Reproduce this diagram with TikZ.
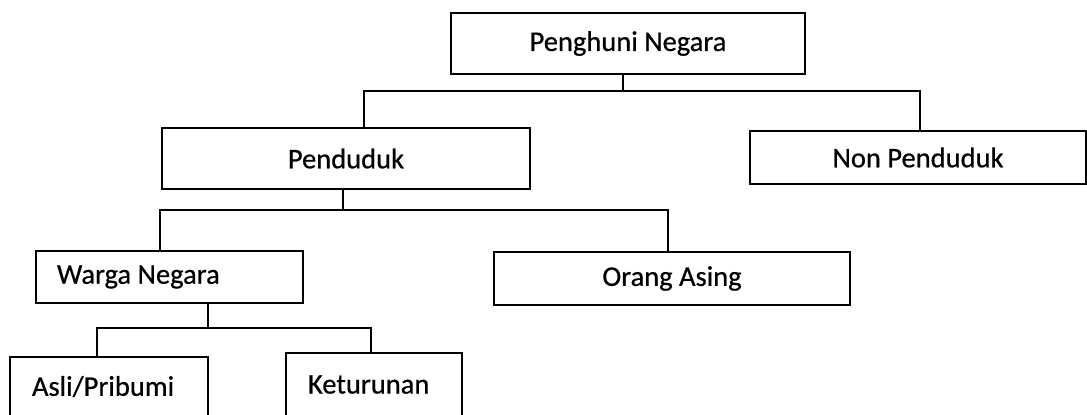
\documentclass[tikz,border=0pt]{standalone}
\usepackage{fontspec}
\setmainfont{Carlito}
\newfontfamily\boxfont[AutoFakeBold=0.6]{Carlito}
\begin{document}
\begin{tikzpicture}[x=0.5pt,y=-0.5pt,
  box/.style={draw=black,line width=1pt,inner sep=0pt,font=\boxfont\bfseries\fontsize{14.25}{17}\selectfont},
  conn/.style={draw=black,line width=0.6pt}]
\useasboundingbox (0,0) rectangle (1087,414);
\clip (0,0) rectangle (1087,414);
\node[box,minimum width=177pt,minimum height=30.5pt] (pn) at (628,43.5) {Penghuni Negara};
\node[box,minimum width=184pt,minimum height=30.5pt] (pd) at (346,158.5) {Penduduk};
\node[box,minimum width=168pt,minimum height=26.5pt] (np) at (918,157.5) {Non Penduduk};
\node[box,minimum width=133.5pt,minimum height=26pt] (wn) at (169.5,277) {\makebox[112.5pt][l]{Warga Negara}};
\node[box,minimum width=178pt,minimum height=26.5pt] (oa) at (672,278.5) {Orang Asing};
\node[box,minimum width=99pt,minimum height=29.5pt] (ap) at (109,386.5) {\makebox[77pt][l]{Asli/Pribumi}};
\node[box,minimum width=88pt,minimum height=31.5pt] (kt) at (374,384.5) {\makebox[66pt][l]{Keturunan}};
% level 1
\coordinate (j1) at (623,91);
\coordinate (j1l) at (364,91);
\coordinate (j1r) at (920,91);
\draw[conn] (j1 |- pn.south) -- (j1);
\draw[conn] (j1l |- pd.north) -- (j1l) -- (j1r) -- (j1r |- np.north);
% level 2
\coordinate (j2) at (343,210);
\coordinate (j2l) at (160,210);
\coordinate (j2r) at (668,210);
\draw[conn] (j2 |- pd.south) -- (j2);
\draw[conn] (j2l |- wn.north) -- (j2l) -- (j2r) -- (j2r |- oa.north);
% level 3
\coordinate (j3) at (208,328);
\coordinate (j3l) at (97,328);
\coordinate (j3r) at (371,328);
\draw[conn] (j3 |- wn.south) -- (j3);
\draw[conn] (j3l |- ap.north) -- (j3l) -- (j3r) -- (j3r |- kt.north);
\end{tikzpicture}
\end{document}
